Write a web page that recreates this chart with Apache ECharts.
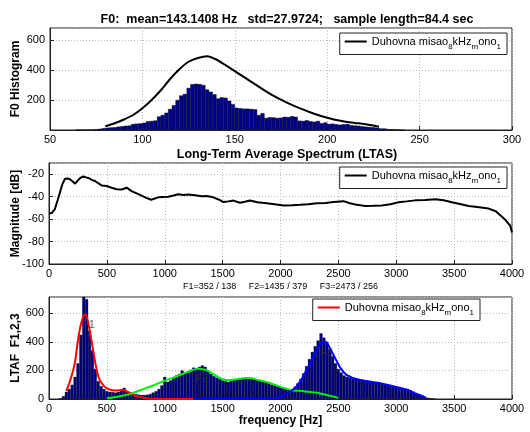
<!DOCTYPE html>
<html>
<head>
<meta charset="utf-8">
<script src="https://cdn.jsdelivr.net/npm/echarts@6/dist/echarts.min.js"></script>
<style>
  html, body { margin: 0; padding: 0; background: #fff; }
  #chart { width: 530px; height: 432px; }
</style>
</head>
<body>
<div id="chart"></div>
<script>
const FONT = "Liberation Sans, Arial, sans-serif";
const legendText = "Duhovna misao{s|8}kHz{s|m}ono{s|1}";

// F0 histogram, 2 Hz bins starting at 65 Hz
const f0BinStart = 65;
const f0BinStep = 2;
const f0Counts = [
  2, 3, 2, 3, 3, 5, 8, 12, 15, 17, 18, 22, 25, 28, 30, 40, 42, 44, 48, 58,
  60, 63, 90, 100, 115, 140, 165, 200, 230, 240, 280, 305, 308, 306, 300, 270,
  255, 238, 210, 218, 215, 195, 172, 148, 145, 142, 142, 140, 138, 100, 112, 80,
  85, 84, 80, 82, 88, 86, 92, 88, 62, 60, 65, 58, 55, 60, 45, 50, 40, 42,
  38, 35, 38, 40, 32, 30, 28, 25, 22, 20, 18, 15, 10, 10, 6, 5, 4, 3, 2
];
// smoothed F0 distribution (black curve)
const f0CurveX = [80, 85, 90, 95, 100, 105, 110, 115, 120, 125, 130, 135, 140, 145, 150, 155, 160, 165, 170, 175, 180, 185, 190, 195, 200, 205, 210, 215, 220, 225, 228];
const f0CurveY = [25, 45, 70, 100, 145, 200, 265, 340, 405, 455, 480, 492, 470, 432, 392, 352, 312, 272, 234, 202, 172, 146, 122, 100, 82, 66, 55, 47, 40, 30, 22];

// LTAS
const ltasFreq = [0, 25, 52, 75, 95, 115, 138, 160, 181, 205, 225, 254, 275, 297, 320, 340, 370, 397, 425, 455, 498, 541, 585, 628, 671, 714, 772, 830, 882, 945, 1031, 1075, 1118, 1160, 1204, 1262, 1320, 1362, 1420, 1465, 1507, 1550, 1593, 1650, 1690, 1737, 1800, 1881, 1950, 2025, 2100, 2170, 2240, 2314, 2390, 2458, 2544, 2600, 2660, 2731, 2800, 2875, 2950, 3020, 3090, 3164, 3250, 3337, 3410, 3481, 3550, 3625, 3700, 3798, 3860, 3913, 3950, 3985, 4000];
const ltasDb = [-55, -54.5, -50.8, -43, -36, -29, -24, -23.8, -24.5, -26.5, -28.4, -25, -23, -22, -22.8, -23.3, -25, -26, -28, -30, -30.5, -32, -33.4, -33.6, -32, -35, -37.8, -40.6, -42.7, -40.6, -40, -39, -37.8, -38.6, -38, -38.8, -39.6, -39.4, -40.6, -42.5, -44.8, -44.2, -43.5, -45.4, -44.6, -43.5, -45, -45.8, -46.8, -47.8, -47.6, -47.3, -46.8, -45.8, -45.6, -44.8, -44, -45.8, -47.3, -48.4, -48.2, -47.8, -46.8, -45, -44.2, -43.3, -43, -42.2, -43.2, -45, -46.5, -48.4, -49.2, -50.6, -53, -57.8, -61.5, -66, -72];

// LTAF histogram, 25 Hz bins starting at 100 Hz
const ltafBinStart = 100;
const ltafBinStep = 25;
const ltafCounts = [
  5, 20, 50, 70, 100, 155, 250, 450, 740, 700, 480, 340, 210, 125, 90, 70, 55, 50, 48, 45,
  50, 65, 78, 52, 45, 38, 35, 30, 28, 28, 30, 35, 45, 55, 70, 95, 155, 120, 130, 150,
  165, 175, 200, 185, 195, 205, 220, 215, 225, 235, 225, 200, 175, 160, 150, 140, 130, 125, 120, 130,
  135, 140, 145, 140, 148, 150, 140, 142, 135, 130, 125, 120, 110, 100, 95, 90, 85, 80, 70, 65,
  70, 85, 110, 140, 180, 230, 280, 330, 370, 410, 460, 430, 400, 350, 300, 250, 210, 185, 165, 155,
  150, 145, 140, 138, 135, 130, 128, 125, 120, 115, 112, 105, 100, 98, 95, 92, 88, 85, 80, 75,
  70, 62, 52, 42, 32, 22, 14, 8, 5, 3
];
// formant fits
const f1X = [150, 175, 200, 225, 250, 275, 300, 317, 340, 369, 398, 427, 456, 500, 570, 640, 690, 745, 800, 850, 900, 950, 1250];
const f1Y = [55, 110, 175, 260, 410, 520, 585, 593, 530, 400, 260, 156, 110, 75, 60, 63, 47, 23, 12, 4, 1, 0, 0];
const f2X = [500, 600, 700, 800, 900, 1000, 1100, 1200, 1280, 1350, 1400, 1450, 1500, 1550, 1600, 1700, 1750, 1800, 1900, 2000, 2100, 2200, 2300, 2400, 2500];
const f2Y = [5, 18, 35, 65, 95, 128, 158, 190, 212, 205, 185, 160, 138, 132, 136, 148, 145, 135, 115, 85, 62, 55, 45, 28, 8];
const f3X = [1250, 1900, 1950, 2000, 2100, 2170, 2230, 2285, 2330, 2372, 2400, 2458, 2520, 2574, 2689, 2862, 3006, 3100, 3150, 3200, 3250];
const f3Y = [0, 0, 4, 16, 60, 122, 210, 296, 370, 401, 395, 308, 215, 168, 133, 110, 82, 62, 42, 28, 12];
const formantNames = ["F1", "F2", "F3"];
const formantLabelX = [340, 1320, 2400];
const formantLabelY = [518, 140, 320];

const zip = (xs, ys) => xs.map((x, i) => [x, ys[i]]);
const binned = (start, step, counts) => counts.map((c, i) => [start + i * step, c]);

const chart = echarts.init(document.getElementById("chart"), null, { renderer: "canvas" });

const labelStyle = (extra) => Object.assign(
  { color: "#000", fontSize: 11, fontFamily: FONT, formatter: (v) => String(v) }, extra);

const axisCommon = {
  axisLine: { show: true, lineStyle: { color: "#222", width: 1 } },
  axisTick: { show: true, inside: true, length: 4, lineStyle: { color: "#222" } },
  splitLine: { show: true, lineStyle: { color: "#bbb", type: [1, 2], width: 1 } },
  nameMoveOverlap: false,
  nameTextStyle: { color: "#000", fontSize: 12, fontWeight: "bold", fontFamily: FONT },
};

const legendCommon = {
  orient: "vertical",
  backgroundColor: "#fff",
  borderColor: "#222",
  borderWidth: 1,
  padding: [3, 6, 4, 5],
  icon: "rect",
  itemWidth: 22,
  itemHeight: 2,
  itemGap: 0,
  formatter: () => legendText,
  textStyle: {
    color: "#000",
    fontSize: 11,
    fontFamily: FONT,
    rich: { s: { fontSize: 8, fontFamily: FONT, verticalAlign: "bottom", lineHeight: 18 } },
  },
};

const gridCommon = { left: 49, right: 18, show: true, borderColor: "#222", borderWidth: 1, outerBoundsMode: "none", containLabel: false };

chart.setOption({
  backgroundColor: "#fff",
  animation: false,
  title: [
    {
      text: "F0:  mean=143.1408 Hz   std=27.9724;   sample length=84.4 sec",
      left: 282, top: 8, textAlign: "center",
      textStyle: { fontSize: 12.5, fontWeight: "bold", fontFamily: FONT, color: "#000" },
    },
    {
      text: "Long-Term Average Spectrum (LTAS)",
      left: 282, top: 143, textAlign: "center",
      textStyle: { fontSize: 12.5, fontWeight: "bold", fontFamily: FONT, color: "#000" },
    },
  ],
  legend: [
    Object.assign({}, legendCommon, { data: ["leg1"], right: 23, top: 33 }),
    Object.assign({}, legendCommon, { data: ["leg2"], right: 23, top: 167 }),
    Object.assign({}, legendCommon, { data: ["leg3"], right: 50, top: 299 }),
  ],
  grid: [
    Object.assign({}, gridCommon, { left: 50, top: 28, height: 102 }),
    Object.assign({}, gridCommon, { top: 163, height: 101 }),
    Object.assign({}, gridCommon, { top: 297, height: 102 }),
  ],
  xAxis: [
    Object.assign({}, axisCommon, { gridIndex: 0, type: "value", min: 50, max: 300, interval: 50,
      axisLabel: labelStyle({ margin: 4 }) }),
    Object.assign({}, axisCommon, { gridIndex: 1, type: "value", min: 0, max: 4000, interval: 500,
      axisLabel: labelStyle({ margin: 4 }),
      name: "F1=352 / 138     F2=1435 / 379     F3=2473 / 256", nameLocation: "middle", nameGap: 18,
      nameTextStyle: { color: "#000", fontSize: 9, fontFamily: FONT } }),
    Object.assign({}, axisCommon, { gridIndex: 2, type: "value", min: 0, max: 4000, interval: 500,
      axisLabel: labelStyle({ margin: 4 }),
      name: "frequency [Hz]", nameLocation: "middle", nameGap: 16 }),
  ],
  yAxis: [
    Object.assign({}, axisCommon, { gridIndex: 0, type: "value", min: 0, max: 680, interval: 200,
      axisLabel: labelStyle({ showMinLabel: false, showMaxLabel: false, margin: 5 }),
      name: "F0 Histogram", nameLocation: "middle", nameRotate: 90, nameGap: 28 }),
    Object.assign({}, axisCommon, { gridIndex: 1, type: "value", min: -100, max: -10, interval: 20,
      axisLabel: labelStyle({ showMaxLabel: false, margin: 5 }),
      name: "Magnitude [dB]", nameLocation: "middle", nameRotate: 90, nameGap: 27 }),
    Object.assign({}, axisCommon, { gridIndex: 2, type: "value", min: 0, max: 715, interval: 200,
      axisLabel: labelStyle({ showMaxLabel: false, margin: 5 }),
      name: "LTAF  F1,2,3", nameLocation: "middle", nameRotate: 90, nameGap: 27 }),
  ],
  series: [
    {
      type: "bar", xAxisIndex: 0, yAxisIndex: 0, barWidth: 4, clip: true,
      itemStyle: { color: "#000090", borderColor: "#000", borderWidth: 0.4 },
      data: binned(f0BinStart, f0BinStep, f0Counts),
    },
    {
      name: "leg1", type: "line", xAxisIndex: 0, yAxisIndex: 0, showSymbol: false, smooth: 0.2,
      lineStyle: { color: "#000", width: 2 }, itemStyle: { color: "#000" },
      data: zip(f0CurveX, f0CurveY), z: 5,
    },
    {
      name: "leg2", type: "line", xAxisIndex: 1, yAxisIndex: 1, showSymbol: false,
      lineStyle: { color: "#000", width: 2 }, itemStyle: { color: "#000" },
      data: zip(ltasFreq, ltasDb),
    },
    {
      type: "bar", xAxisIndex: 2, yAxisIndex: 2, barWidth: 3, clip: true,
      itemStyle: { color: "#000080", borderColor: "#000", borderWidth: 0.3 },
      data: binned(ltafBinStart, ltafBinStep, ltafCounts),
    },
    {
      name: "leg3", type: "line", xAxisIndex: 2, yAxisIndex: 2, showSymbol: false, smooth: 0.2,
      lineStyle: { color: "#ff0000", width: 2 }, itemStyle: { color: "#ff0000" },
      data: zip(f1X, f1Y), z: 5,
    },
    {
      type: "line", xAxisIndex: 2, yAxisIndex: 2, showSymbol: false, smooth: 0.2,
      lineStyle: { color: "#00ee00", width: 2 }, itemStyle: { color: "#00ee00" },
      data: zip(f2X, f2Y), z: 5,
    },
    {
      type: "line", xAxisIndex: 2, yAxisIndex: 2, showSymbol: false, smooth: 0.2,
      lineStyle: { color: "#0000ff", width: 2 }, itemStyle: { color: "#0000ff" },
      data: zip(f3X, f3Y), z: 5,
    },
    {
      type: "scatter", xAxisIndex: 2, yAxisIndex: 2, symbolSize: 0, z: 6,
      label: {
        show: true, position: "inside", color: "#333", fontSize: 11, fontFamily: FONT,
        formatter: (p) => formantNames[p.dataIndex],
      },
      data: zip(formantLabelX, formantLabelY),
    },
  ],
});
</script>
</body>
</html>
